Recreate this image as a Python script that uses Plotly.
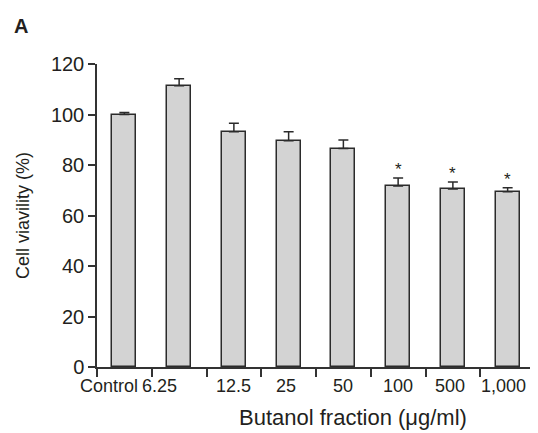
import plotly.graph_objects as go

categories = ["Control", "6.25", "12.5", "25", "50", "100", "500", "1,000"]
viability = [100.0, 111.4, 93.2, 89.6, 86.5, 71.7, 70.5, 69.4]
sem = [0.8, 2.8, 3.3, 3.6, 3.4, 3.2, 2.8, 1.6]
significant = [False, False, False, False, False, True, True, True]
y_ticks = [0, 20, 40, 60, 80, 100, 120]

n = len(categories)
centers = list(range(n))
boundaries = [i - 0.5 for i in range(n + 1)]

# horizontal nudges (px) of crowded category labels, as in the original
label_nudge = {"Control": -15, "6.25": -20, "25": -3, "500": -3, "1,000": -4}

ink = "#231f20"
font_family = "Liberation Sans, Arial, Helvetica, sans-serif"

fig = go.Figure()
fig.add_trace(go.Bar(
    x=centers, y=viability, width=0.44,
    marker=dict(color="#d3d3d3", line=dict(color="#2b2b2b", width=1.5)),
    error_y=dict(type="data", array=sem, arrayminus=[0] * n, symmetric=False,
                 color="#2b2b2b", thickness=1.5, width=5),
    showlegend=False, hoverinfo="skip",
))

annotations = []
for i, (v, e, s) in enumerate(zip(viability, sem, significant)):
    if s:
        annotations.append(dict(x=i, y=v + e, xref="x", yref="y", text="*",
                                showarrow=False, yanchor="bottom", yshift=-3,
                                font=dict(size=17, color=ink, family=font_family)))
for i, c in enumerate(categories):
    annotations.append(dict(x=i, y=0, xref="x", yref="y", text=c,
                            showarrow=False, xanchor="center", yanchor="top",
                            yshift=-7, xshift=label_nudge.get(c, 0),
                            font=dict(size=18, color=ink, family=font_family)))
annotations.append(dict(x=-0.195, y=1.125, xref="paper", yref="paper", text="<b>A</b>",
                        xanchor="left", yanchor="middle", showarrow=False,
                        font=dict(size=20, color=ink, family=font_family)))
annotations.append(dict(x=0.584, y=-0.168, xref="paper", yref="paper",
                        text="Butanol fraction (\u03bcg/ml)",
                        xanchor="center", yanchor="middle", showarrow=False,
                        font=dict(size=22, color=ink, family=font_family)))

# page body has an 8px margin, so the figure is offset by 8px
fig.update_layout(
    width=530, height=425,
    margin=dict(l=89, r=3, t=56, b=66, autoexpand=False),
    paper_bgcolor="white", plot_bgcolor="white",
    font=dict(family=font_family, size=18, color=ink),
    bargap=0,
    annotations=annotations,
    xaxis=dict(range=[-0.5, n - 0.5], tickmode="array", tickvals=boundaries,
               showticklabels=False, ticks="outside", ticklen=8, tickwidth=1.5,
               tickcolor="#333", showline=True, linecolor="#333", linewidth=1.5,
               showgrid=False, zeroline=False, automargin=False),
    yaxis=dict(range=[0, 120], tickmode="array", tickvals=y_ticks,
               ticks="outside", ticklen=7, tickwidth=1.5, tickcolor="#333",
               showline=True, linecolor="#333", linewidth=1.5,
               showgrid=False, zeroline=False, automargin=False,
               tickfont=dict(size=20, color=ink, family=font_family),
               title=dict(text="Cell viavility (%)", standoff=17,
                          font=dict(size=18, color=ink, family=font_family))),
)

fig.write_html("out.html")
